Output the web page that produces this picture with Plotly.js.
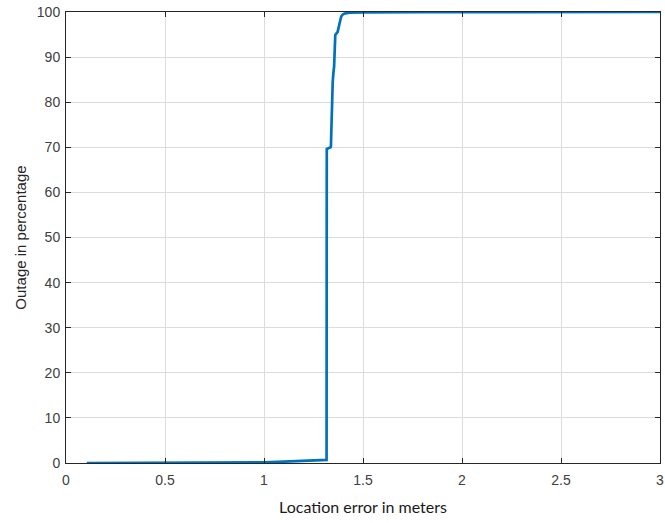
<!DOCTYPE html>
<html>
<head>
<meta charset="utf-8">
<script src="https://cdn.plot.ly/plotly-3.0.1.min.js"></script>
<style>html,body{margin:0;padding:0;background:#fff;}#chart{width:665px;height:523px;}</style>
</head>
<body>
<div id="chart"></div>
<script>
const locationError = [0.105, 0.3, 0.5, 0.7, 0.9, 1.0, 1.1, 1.2, 1.25, 1.3, 1.316, 1.317, 1.325, 1.336, 1.338, 1.345, 1.347, 1.352, 1.354, 1.36, 1.365, 1.372, 1.378, 1.384, 1.39, 1.399, 1.41, 1.434, 1.5, 1.8, 2.3, 3.0];
const outagePct = [0.0, 0.02, 0.05, 0.08, 0.12, 0.15, 0.3, 0.45, 0.55, 0.65, 0.7, 69.6, 69.8, 70.0, 70.3, 83.1, 84.5, 87.2, 87.8, 94.9, 95.2, 95.6, 96.8, 98.2, 99.0, 99.5, 99.7, 99.85, 99.9, 99.95, 100.0, 100.0];
const xTicks = [0, 0.5, 1, 1.5, 2, 2.5, 3];
const xTickLabels = ['0', '0.5', '1', '1.5', '2', '2.5', '3'];
const yTicks = [0, 10, 20, 30, 40, 50, 60, 70, 80, 90, 100];

const trace = {
  x: locationError,
  y: outagePct,
  type: 'scatter',
  mode: 'lines',
  line: {color: '#0072BD', width: 2.7},
  hoverinfo: 'skip'
};

const axisCommon = {
  showline: true,
  linecolor: '#262626',
  linewidth: 1,
  mirror: 'ticks',
  ticks: 'inside',
  ticklen: 5,
  tickcolor: '#262626',
  showgrid: true,
  gridcolor: '#dcdcdc',
  gridwidth: 1,
  zeroline: false,
  tickfont: {family: "'Liberation Sans', Arial, sans-serif", size: 14, color: '#404040'}
};

const layout = {
  width: 665,
  height: 523,
  margin: {l: 66, r: 5, t: 12, b: 60},
  paper_bgcolor: '#ffffff',
  plot_bgcolor: '#ffffff',
  showlegend: false,
  xaxis: Object.assign({}, axisCommon, {
    range: [0, 3],
    tickvals: xTicks,
    ticktext: xTickLabels,
    ticklabelstandoff: 4,
    title: {text: 'Location error in meters', font: {family: 'Lato, sans-serif', size: 16, color: '#1a1a1a'}, standoff: 15}
  }),
  yaxis: Object.assign({}, axisCommon, {
    range: [0, 100],
    tickvals: yTicks,
    ticklabelstandoff: 2,
    title: {text: 'Outage in percentage', font: {family: "'Liberation Sans', Arial, sans-serif", size: 15, color: '#262626'}, standoff: 6}
  })
};

Plotly.newPlot('chart', [trace], layout, {displayModeBar: false, staticPlot: true});
</script>
</body>
</html>
